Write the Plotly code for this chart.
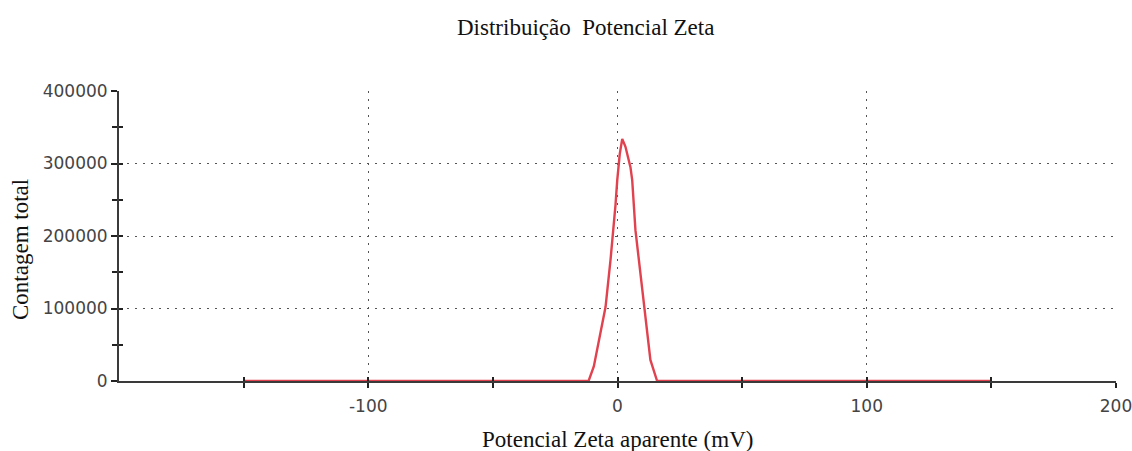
import plotly.graph_objects as go

# Zeta potential distribution (apparent potential, mV) vs total counts
zeta_mv = [-150, -11.6, -9.5, -6.8, -4.8, -2.8, -1.5, -0.8, -0.1, 0.9, 1.9,
           3.2, 5.2, 5.9, 7.2, 8.6, 9.9, 11.9, 13.2, 15.9, 150]
counts = [0, 0, 20000, 66000, 102000, 167000, 213000, 243000, 277000, 313000, 334000,
          323000, 295000, 277000, 208000, 167000, 121000, 66000, 29000, 0, 0]

x_tick_vals = [-100, 0, 100, 200]
x_tick_text = ["-100", "0", "100", "200"]
y_tick_vals = [0, 100000, 200000, 300000, 400000]
y_tick_text = ["0", "100000", "200000", "300000", "400000"]

title_text = "Distribuição&nbsp; Potencial Zeta"
x_title = "Potencial Zeta aparente (mV)"
y_title = "Contagem total"

serif = "Liberation Serif, Times New Roman, serif"
sans = "DejaVu Sans, Tahoma, sans-serif"
axis_col = "#3a3a3a"
tick_col = "#222"
grid_dash = "2px,6px"

fig = go.Figure()
fig.add_trace(go.Scatter(x=zeta_mv, y=counts, mode="lines",
                         line=dict(color="#e0434f", width=2.4),
                         hoverinfo="x+y", showlegend=False))
# overlay axes carry the inner half of the crossing tick marks
fig.add_trace(go.Scatter(x=[None], y=[None], xaxis="x2", yaxis="y2",
                         showlegend=False, hoverinfo="skip"))

fig.update_layout(
    width=1132, height=451,
    margin=dict(l=119, r=16, t=91, b=70),
    paper_bgcolor="white", plot_bgcolor="white",
    xaxis=dict(range=[-200, 200], tickvals=x_tick_vals, ticktext=x_tick_text,
               ticks="outside", ticklen=5, tickwidth=1.5, tickcolor=tick_col,
               minor=dict(tickvals=[-150, -50, 50, 150], ticks="outside", ticklen=5,
                          tickwidth=1.5, tickcolor=tick_col, showgrid=False),
               showline=True, linecolor=axis_col, linewidth=2,
               showgrid=True, gridcolor="#555", gridwidth=1, griddash=grid_dash,
               zeroline=False, tickfont=dict(family=sans, size=17, color="#444"),
               ticklabelstandoff=4, ticklabeloverflow="allow",
               automargin=False, layer="below traces"),
    yaxis=dict(range=[0, 400000], tickvals=y_tick_vals, ticktext=y_tick_text,
               ticks="outside", ticklen=6, tickwidth=1.5, tickcolor=tick_col,
               minor=dict(tickvals=[50000, 150000, 250000, 350000], ticks="outside",
                          ticklen=5, tickwidth=1.5, tickcolor=tick_col, showgrid=False),
               showline=True, linecolor=axis_col, linewidth=2,
               showgrid=True, gridcolor="#555", gridwidth=1, griddash=grid_dash,
               zeroline=False, tickfont=dict(family=sans, size=17, color="#444"),
               ticklabeloverflow="allow", automargin=False, layer="below traces"),
    xaxis2=dict(overlaying="x", range=[-200, 200], anchor="y2",
                tickvals=[-150, -100, -50, 0, 50, 100, 150, 200], ticks="inside",
                ticklen=4, tickwidth=1.5, tickcolor=tick_col, showticklabels=False,
                showgrid=False, zeroline=False, showline=False, automargin=False),
    yaxis2=dict(overlaying="y", range=[0, 400000], anchor="x2",
                tickvals=[0, 50000, 100000, 150000, 200000, 250000, 300000, 350000, 400000],
                ticks="inside", ticklen=4, tickwidth=1.5, tickcolor=tick_col,
                showticklabels=False, showgrid=False, zeroline=False, showline=False,
                automargin=False),
    annotations=[
        dict(text=title_text, x=585, y=27, font=dict(family=serif, size=23, color="#111")),
        dict(text=x_title, x=617, y=439, font=dict(family=serif, size=23, color="#111")),
        dict(text=y_title, x=20, y=250, textangle=-90,
             font=dict(family=serif, size=23, color="#111")),
    ],
)

# place the text annotations by pixel position, converted to paper coordinates
pw, ph = 1132 - 119 - 16, 451 - 91 - 70
for a in fig.layout.annotations:
    a.update(xref="paper", yref="paper", showarrow=False,
             xanchor="center", yanchor="middle",
             x=(a.x - 119) / pw, y=(451 - 70 - a.y) / ph)

fig.write_html("out.html")
